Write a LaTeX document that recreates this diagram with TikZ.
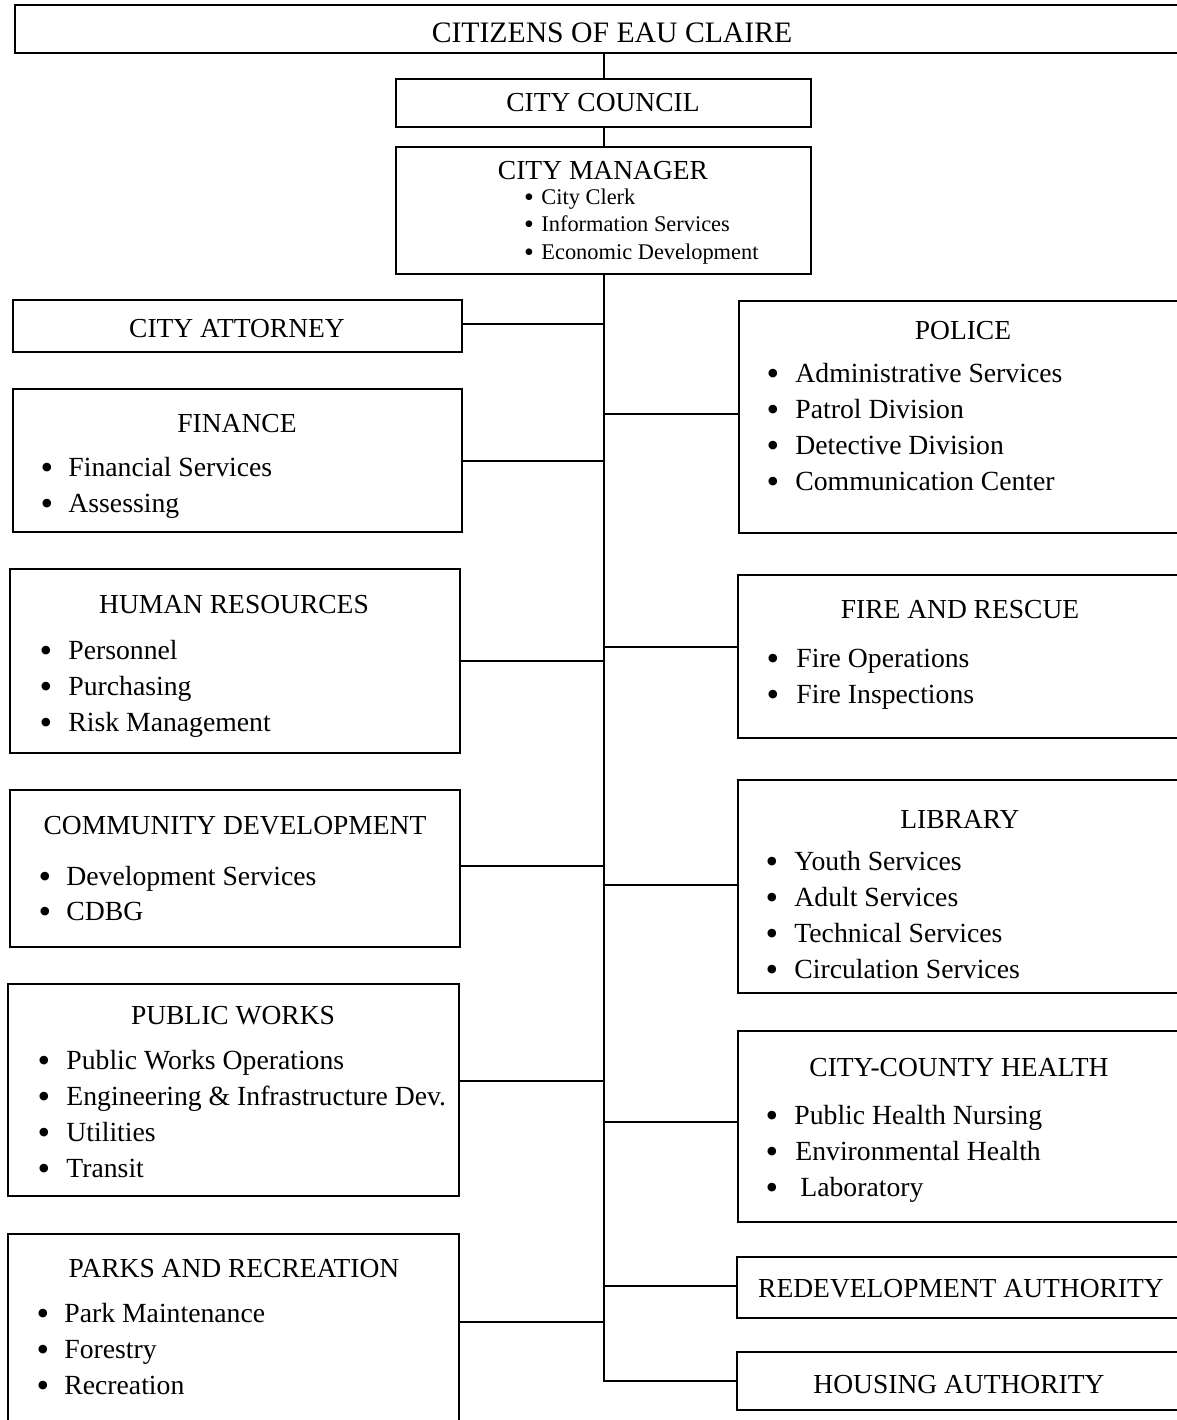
\documentclass[tikz,border=0pt]{standalone}
\usepackage{fontspec}
\setmainfont{Liberation Serif}
\usetikzlibrary{fit}
\tikzset{
  box/.style={draw, line width=1pt, inner sep=0pt},
  ttl/.style={anchor=base, inner sep=0pt, font=\fontsize{13.75}{16}\selectfont},
  itm/.style={anchor=base west, inner sep=0pt, font=\fontsize{13.85}{16}\selectfont},
  bul/.style={anchor=base, inner sep=0pt, yshift=-1.8pt, font=\fontsize{18}{20}\selectfont},
  sitm/.style={anchor=base west, inner sep=0pt, font=\fontsize{11.2}{13}\selectfont},
  sbul/.style={anchor=base, inner sep=0pt, yshift=-1.2pt, font=\fontsize{14}{16}\selectfont},
  conn/.style={draw, line width=1pt}
}
\begin{document}
\begin{tikzpicture}[x=0.5pt,y=-0.5pt]
\useasboundingbox (0,0) rectangle (1177,1420);
\clip (0,0) rectangle (1177,1420);
% boxes
\node[box, fit={(15,5) (1200,53)}] (cit) {};
\node[box, fit={(396,79) (811,127)}] (cc) {};
\node[box, fit={(396,147) (811,274)}] (cm) {};
\node[box, fit={(13,300) (462,352)}] (ca) {};
\node[box, fit={(13,389) (462,532)}] (fin) {};
\node[box, fit={(10,569) (460,753)}] (hr) {};
\node[box, fit={(10,790) (460,947)}] (cd) {};
\node[box, fit={(8,984) (459,1196)}] (pw) {};
\node[box, fit={(8,1234) (459,1440)}] (pr) {};
\node[box, fit={(739,301) (1200,533)}] (pol) {};
\node[box, fit={(738,575) (1200,738)}] (fire) {};
\node[box, fit={(738,780) (1200,993)}] (lib) {};
\node[box, fit={(738,1031) (1200,1222)}] (hlth) {};
\node[box, fit={(737,1257) (1200,1318)}] (rda) {};
\node[box, fit={(737,1352) (1200,1410)}] (ha) {};
% top texts
\node[ttl, font=\fontsize{14.85}{17}\selectfont] (t-cit) at (612,42) {CITIZENS OF EAU CLAIRE};
\node[ttl] (t-cc) at (603,111) {CITY COUNCIL};
\node[ttl] (t-cm) at (603,179) {CITY MANAGER};
\foreach \y/\t [count=\i] in {204/City Clerk,231/Information Services,259/Economic Development}{
  \node[sbul] (cmb\i) at (529,\y) {•};
  \node[sitm] (cmi\i) at (541,\y) {\t};
}
% left column texts
\node[ttl] (t-ca) at (237,337) {CITY ATTORNEY};
\node[ttl] (t-fin) at (237,432) {FINANCE};
\foreach \y/\t [count=\i] in {476/Financial Services,512/Assessing}{
  \node[bul] (finb\i) at (47,\y) {•};
  \node[itm] (fini\i) at (68,\y) {\t};
}
\node[ttl] (t-hr) at (234,613) {HUMAN RESOURCES};
\foreach \y/\t [count=\i] in {659/Personnel,695/Purchasing,731/Risk Management}{
  \node[bul] (hrb\i) at (46,\y) {•};
  \node[itm] (hri\i) at (68,\y) {\t};
}
\node[ttl] (t-cd) at (235,834) {COMMUNITY DEVELOPMENT};
\foreach \y/\t [count=\i] in {885/Development Services,920/CDBG}{
  \node[bul] (cdb\i) at (45,\y) {•};
  \node[itm] (cdi\i) at (66,\y) {\t};
}
\node[ttl] (t-pw) at (233,1024) {PUBLIC WORKS};
\foreach \y/\t [count=\i] in {1069/Public Works Operations,1105/Engineering \& Infrastructure Dev.,1141/Utilities,1177/Transit}{
  \node[bul] (pwb\i) at (44,\y) {•};
  \node[itm] (pwi\i) at (66,\y) {\t};
}
\node[ttl] (t-pr) at (234,1277) {PARKS AND RECREATION};
\foreach \y/\t [count=\i] in {1322/Park Maintenance,1358/Forestry,1394/Recreation}{
  \node[bul] (prb\i) at (43,\y) {•};
  \node[itm] (pri\i) at (64,\y) {\t};
}
% right column texts
\node[ttl] (t-pol) at (963,339) {POLICE};
\foreach \y/\t [count=\i] in {382/Administrative Services,418/Patrol Division,454/Detective Division,490/Communication Center}{
  \node[bul] (polb\i) at (773,\y) {•};
  \node[itm] (poli\i) at (795,\y) {\t};
}
\node[ttl] (t-fire) at (960,618) {FIRE AND RESCUE};
\foreach \y/\t [count=\i] in {667/Fire Operations,703/Fire Inspections}{
  \node[bul] (fireb\i) at (773,\y) {•};
  \node[itm] (firei\i) at (796,\y) {\t};
}
\node[ttl] (t-lib) at (960,828) {LIBRARY};
\foreach \y/\t [count=\i] in {870/Youth Services,906/Adult Services,942/Technical Services,978/Circulation Services}{
  \node[bul] (libb\i) at (772,\y) {•};
  \node[itm] (libi\i) at (794,\y) {\t};
}
\node[ttl] (t-hlth) at (959,1076) {CITY-COUNTY HEALTH};
\node[bul] (hb1) at (772,1124) {•};
\node[itm] (hi1) at (794,1124) {Public Health Nursing};
\node[bul] (hb2) at (772,1160) {•};
\node[itm] (hi2) at (795,1160) {Environmental Health};
\node[bul] (hb3) at (772,1196) {•};
\node[itm] (hi3) at (800,1196) {Laboratory};
\node[ttl] (t-rda) at (961,1297) {REDEVELOPMENT AUTHORITY};
\node[ttl] (t-ha) at (959,1393) {HOUSING AUTHORITY};
% connectors
\coordinate (sp) at (cm.south);
\draw[conn] (cc.north |- cit.south) -- (cc.north);
\draw[conn] (cc.south) -- (cm.north);
\draw[conn] (cm.south) -- (sp |- 0,1381) -- (ha.west |- 0,1381);
\draw[conn] (ca.east |- 0,324) -- (sp |- 0,324);
\draw[conn] (fin.east |- 0,461) -- (sp |- 0,461);
\draw[conn] (hr.east |- 0,661) -- (sp |- 0,661);
\draw[conn] (cd.east |- 0,866) -- (sp |- 0,866);
\draw[conn] (pw.east |- 0,1081) -- (sp |- 0,1081);
\draw[conn] (pr.east |- 0,1322) -- (sp |- 0,1322);
\draw[conn] (sp |- 0,414) -- (pol.west |- 0,414);
\draw[conn] (sp |- 0,647) -- (fire.west |- 0,647);
\draw[conn] (sp |- 0,885) -- (lib.west |- 0,885);
\draw[conn] (sp |- 0,1122) -- (hlth.west |- 0,1122);
\draw[conn] (sp |- 0,1286) -- (rda.west |- 0,1286);
\end{tikzpicture}
\end{document}
